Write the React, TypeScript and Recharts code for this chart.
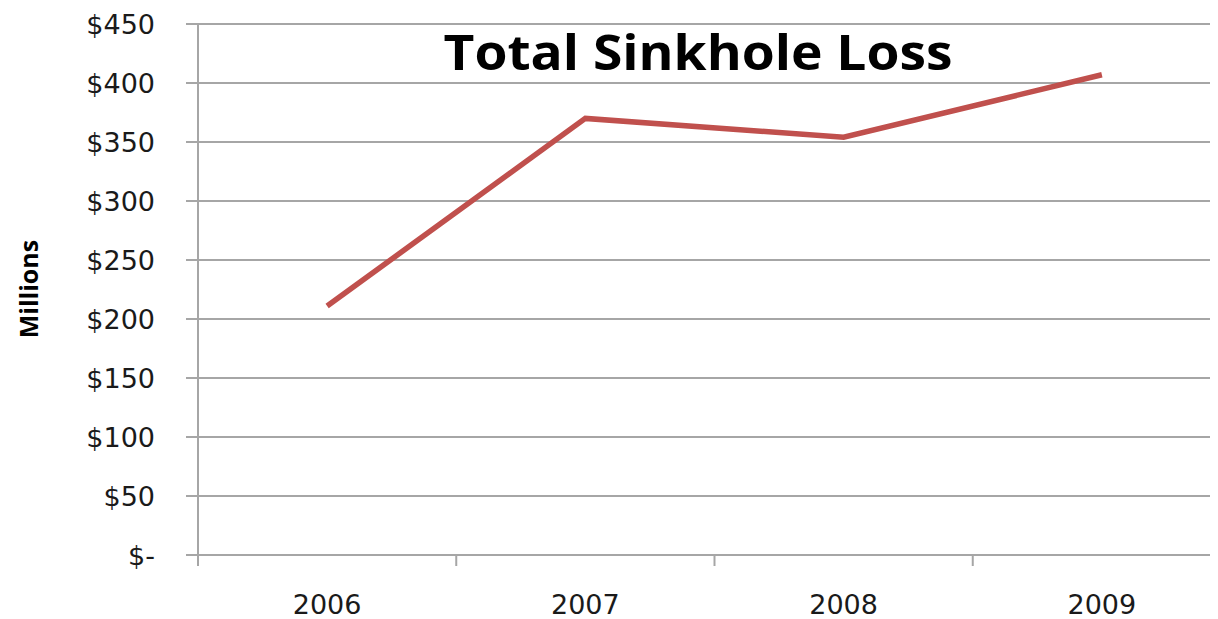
import React from "react";
import { LineChart, Line, XAxis, YAxis, CartesianGrid } from "recharts";

const years = ["2006", "2007", "2008", "2009"];
const lossMillions = [211, 370, 354, 407];
const yTicks = [0, 50, 100, 150, 200, 250, 300, 350, 400, 450];
const xTicks = [-0.5, 0, 0.5, 1, 1.5, 2, 2.5, 3, 3.5];

const data = years.map((year, i) => ({ idx: i, year, loss: lossMillions[i] }));

const GRID = "#A6A6A6";
const FONT = "'DejaVu Sans', sans-serif";

const fmt = (v: number) => (v === 0 ? "$-" : `$${v}`);

const XTick = (props: any) => {
  const { x, y, payload } = props;
  const v = payload.value as number;
  if (Number.isInteger(v)) {
    return (
      <text x={x} y={y + 59} textAnchor="middle" fontSize={27} fontFamily={FONT} fill="#1a1a1a">
        {years[v]}
      </text>
    );
  }
  return <line x1={x} x2={x} y1={y} y2={y + 11} stroke={GRID} strokeWidth={2} />;
};

export default function App() {
  return (
    <div style={{ width: 1210, height: 611, overflow: "hidden", position: "relative", background: "#fff" }}>
      <LineChart
        width={1240}
        height={611}
        data={data}
        margin={{ top: 16, right: 17, left: 0, bottom: 0 }}
      >
        <CartesianGrid stroke={GRID} strokeWidth={2} vertical={false} />
        <XAxis
          dataKey="idx"
          type="number"
          domain={[-0.5, 3.5]}
          ticks={xTicks}
          height={64}
          stroke={GRID}
          strokeWidth={2}
          tickSize={0}
          tickMargin={0}
          tickLine={false}
          tick={<XTick />}
          interval={0}
          allowDataOverflow
        />
        <YAxis
          width={190}
          domain={[0, 450]}
          ticks={yTicks}
          tickFormatter={fmt}
          stroke={GRID}
          strokeWidth={2}
          tickSize={12}
          tickLine={{ stroke: GRID, strokeWidth: 2 }}
          tick={{ fill: "#1a1a1a", fontSize: 27, fontFamily: FONT }}
          tickMargin={31}
          interval={0}
        />
        <Line
          type="linear"
          dataKey="loss"
          stroke="#C0504D"
          strokeWidth={5.5}
          dot={false}
          isAnimationActive={false}
        />
      </LineChart>
      <svg
        width={1210}
        height={611}
        style={{ position: "absolute", left: 0, top: 0, pointerEvents: "none" }}
      >
        <text
          x={690}
          y={62}
          textAnchor="middle"
          fontFamily="'Open Sans', sans-serif"
          fontWeight="bold"
          fontSize={48}
          fill="#000"
          textLength={509}
          lengthAdjust="spacingAndGlyphs"
        >
          Total Sinkhole Loss
        </text>
        <text
          x={0}
          y={0}
          transform="translate(20 281) rotate(-90)"
          textAnchor="middle"
          dominantBaseline="central"
          fontFamily="'Open Sans', sans-serif"
          fontWeight="bold"
          fontSize={25}
          fill="#000"
        >
          Millions
        </text>
      </svg>
    </div>
  );
}
